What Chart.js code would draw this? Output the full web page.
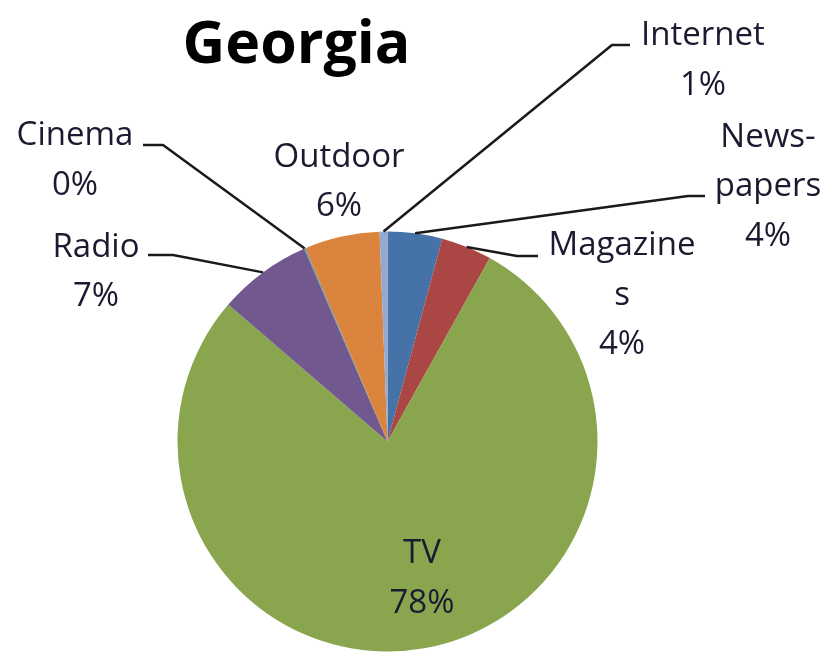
<!DOCTYPE html>
<html>
<head>
<meta charset="utf-8">
<script src="https://cdn.jsdelivr.net/npm/chart.js@4/dist/chart.umd.min.js"></script>
<style>
  html, body { margin: 0; padding: 0; background: #ffffff; }
  #wrap { width: 830px; height: 654px; position: relative; }
</style>
</head>
<body>
<div id="wrap"><canvas id="c"></canvas></div>
<script>
// ---- data ----
const chartTitle = 'Georgia';
const categories = ['Newspapers', 'Magazines', 'TV', 'Radio', 'Cinema', 'Outdoor', 'Internet'];
const labelLines = [['News-', 'papers'], ['Magazine', 's'], ['TV'], ['Radio'], ['Cinema'], ['Outdoor'], ['Internet']];
const shares = [4.2, 3.9, 78.2, 7.2, 0.1, 5.8, 0.6];
const sliceColors = ['#4572A7', '#AA4643', '#89A54E', '#71588F', '#4198AF', '#DB843D', '#93A9CF'];

// ---- label placement (offsets from pie centre) ----
const labelPlacement = [
  { dx: 380.5, dy: -294.8, leader: [[300.5, -245.5], [317.5, -245.5]] },   // Newspapers
  { dx: 234.5, dy: -186.5, leader: [[129.5, -185.5], [150.5, -185.5]] },   // Magazines
  { dx: 34.5,  dy: 121.5,  leader: null },                                 // TV
  { dx: -291.5, dy: -184.8, leader: [[-214.5, -186.5], [-239.5, -186.5]] }, // Radio
  { dx: -312.5, dy: -296.5, leader: [[-224.5, -296.5], [-244.5, -296.5]] }, // Cinema
  { dx: -48.5, dy: -274.8, leader: null },                                  // Outdoor
  { dx: 315.5, dy: -396.5, leader: [[224.5, -396.5], [242.5, -396.5]] }    // Internet
];

const labelFont = '33px "Open Sans", "Noto Sans", sans-serif';
const titleFont = 'bold 59px "Open Sans", "Noto Sans", sans-serif';
const lineGap = 49.5;

const outsideLabels = {
  id: 'outsideLabels',
  afterDatasetsDraw(chart) {
    const ctx = chart.ctx;
    const meta = chart.getDatasetMeta(0);
    const data = chart.data.datasets[0].data;
    const total = data.reduce((a, b) => a + b, 0);
    const first = meta.data[0];
    const cx = first.x, cy = first.y;

    ctx.save();
    // title
    ctx.font = titleFont;
    ctx.fillStyle = '#000000';
    ctx.textAlign = 'center';
    ctx.textBaseline = 'alphabetic';
    ctx.fillText(chartTitle, cx - 91, cy - 378.5);

    meta.data.forEach((arc, i) => {
      const p = labelPlacement[i];
      const pct = Math.round(data[i] / total * 100) + '%';
      const lines = labelLines[i].concat([pct]);
      // leader line
      if (p.leader) {
        const mid = (arc.startAngle + arc.endAngle) / 2;
        const ax = arc.x + Math.cos(mid) * arc.outerRadius;
        const ay = arc.y + Math.sin(mid) * arc.outerRadius;
        ctx.beginPath();
        ctx.moveTo(ax, ay);
        ctx.lineTo(cx + p.leader[0][0], cy + p.leader[0][1]);
        ctx.lineTo(cx + p.leader[1][0], cy + p.leader[1][1]);
        ctx.strokeStyle = '#1a1a1a';
        ctx.lineWidth = 2.5;
        ctx.lineJoin = 'round';
        ctx.stroke();
      }
      ctx.font = labelFont;
      ctx.fillStyle = '#1a1a30';
      ctx.textAlign = 'center';
      ctx.textBaseline = 'alphabetic';
      lines.forEach((t, k) => {
        ctx.fillText(t, cx + p.dx, cy + p.dy + k * lineGap);
      });
    });
    ctx.restore();
  }
};

new Chart(document.getElementById('c'), {
  type: 'pie',
  data: {
    labels: categories,
    datasets: [{
      data: shares,
      backgroundColor: sliceColors,
      borderWidth: 0
    }]
  },
  options: {
    responsive: true,
    maintainAspectRatio: false,
    animation: false,
    layout: { padding: { left: 177.5, right: 232.5, top: 231.5, bottom: 2.5 } },
    plugins: {
      legend: { display: false },
      tooltip: { enabled: false },
      title: { display: false }
    }
  },
  plugins: [outsideLabels]
});
</script>
</body>
</html>
